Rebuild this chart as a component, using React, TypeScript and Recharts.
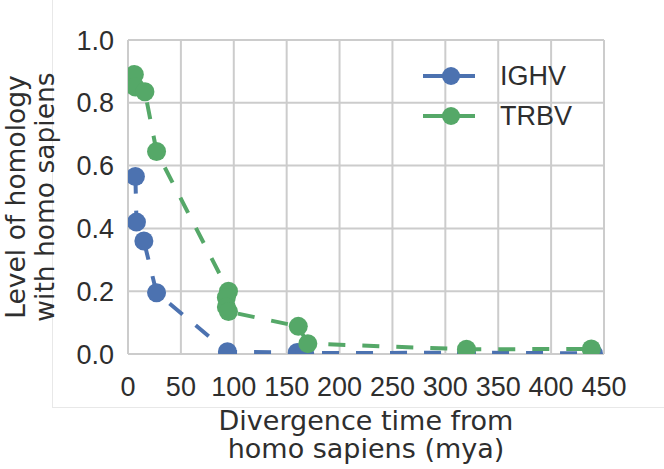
import React from 'react';
import { ComposedChart, Line, XAxis, YAxis, CartesianGrid, Legend, Label } from 'recharts';

const ighvTime = [7, 8, 15, 27, 94, 160, 167, 320, 440];
const ighvHomology = [0.565, 0.42, 0.36, 0.195, 0.007, 0.005, 0.003, 0.004, 0.002];
const trbvTime = [6, 7, 16, 27, 95, 93, 93, 95, 161, 170, 320, 438];
const trbvHomology = [0.89, 0.85, 0.835, 0.645, 0.2, 0.18, 0.15, 0.135, 0.088, 0.033, 0.015, 0.016];
const xTicks = [0, 50, 100, 150, 200, 250, 300, 350, 400, 450];
const yTicks = [0, 0.2, 0.4, 0.6, 0.8, 1.0];
const seriesNames = ['IGHV', 'TRBV'];

const BLUE = '#4C72B0';
const GREEN = '#55A868';
const GRID = '#cccccc';
const TEXT = '#2e2e2e';

const ighvData = ighvTime.map((x, i) => ({ x, y: ighvHomology[i] }));
const trbvData = trbvTime.map((x, i) => ({ x, y: trbvHomology[i] }));

const LegendContent = () => {
  const colors = [BLUE, GREEN];
  return (
    <div>
      {seriesNames.map((name, i) => (
        <div key={name} style={{ display: 'flex', alignItems: 'center', height: 40 }}>
          <svg width={80} height={40}>
            <line x1={3} x2={55} y1={20} y2={20} stroke={colors[i]} strokeWidth={4} />
            <circle cx={31} cy={20} r={9} fill={colors[i]} />
          </svg>
          <span style={{ fontFamily: '"Liberation Sans", Arial, sans-serif', fontSize: 27, color: TEXT, lineHeight: '40px' }}>
            {name}
          </span>
        </div>
      ))}
    </div>
  );
};

const XLabel = (props: any) => {
  const vb = props.viewBox || {};
  const cx = vb.x + vb.width / 2;
  const y = vb.y;
  return (
    <text x={cx} y={y + 76} textAnchor="middle" fill={TEXT} style={{ fontFamily: '"DejaVu Sans", sans-serif', fontSize: 27 }}>
      <tspan x={cx} y={y + 76}>Divergence time from</tspan>
      <tspan x={cx} y={y + 104}>homo sapiens (mya)</tspan>
    </text>
  );
};

const YLabel = (props: any) => {
  const vb = props.viewBox || {};
  const cy = vb.y + vb.height / 2;
  return (
    <g>
      <text x={25} y={cy} transform={`rotate(-90, 25, ${cy})`} textAnchor="middle" fill={TEXT} style={{ fontFamily: '"DejaVu Sans", sans-serif', fontSize: 26.5 }}>
        Level of homology
      </text>
      <text x={54} y={cy} transform={`rotate(-90, 54, ${cy})`} textAnchor="middle" fill={TEXT} style={{ fontFamily: '"DejaVu Sans", sans-serif', fontSize: 26.5 }}>
        with homo sapiens
      </text>
    </g>
  );
};

const tickStyle = { fontFamily: '"Liberation Sans", Arial, sans-serif', fontSize: 27, fill: TEXT };

export default function App() {
  return (
    <div style={{ position: 'absolute', left: 0, top: 0, width: 664, height: 469, background: '#fff' }}>
      <div style={{ position: 'absolute', left: 52, top: 0, width: 1, height: 408, background: '#e8e8e8' }} />
      <div style={{ position: 'absolute', left: 52, top: 407, width: 612, height: 1, background: '#e8e8e8' }} />
      <ComposedChart width={664} height={469} margin={{ top: 40, right: 60, bottom: 0, left: 48 }}>
        <CartesianGrid stroke={GRID} strokeWidth={2} horizontalValues={yTicks} verticalValues={xTicks} />
        <XAxis
          type="number"
          dataKey="x"
          domain={[0, 450]}
          ticks={xTicks}
          allowDataOverflow
          height={115}
          tickSize={0}
          tickMargin={23}
          axisLine={false}
          tickLine={false}
          tick={tickStyle}
          interval={0}
        >
          <Label content={<XLabel />} />
        </XAxis>
        <YAxis
          type="number"
          dataKey="y"
          domain={[0, 1]}
          ticks={yTicks}
          allowDataOverflow
          width={80}
          tickSize={0}
          tickMargin={14}
          axisLine={false}
          tickLine={false}
          tick={tickStyle}
          interval={0}
          tickFormatter={(v: number) => v.toFixed(1)}
        >
          <Label content={<YLabel />} />
        </YAxis>
        <Line
          data={ighvData}
          dataKey="y"
          name={seriesNames[0]}
          type="linear"
          stroke={BLUE}
          strokeWidth={4}
          strokeDasharray="17 17"
          dot={{ r: 9.5, fill: BLUE, stroke: 'none', strokeDasharray: '' }}
          activeDot={false}
          isAnimationActive={false}
        />
        <Line
          data={trbvData}
          dataKey="y"
          name={seriesNames[1]}
          type="linear"
          stroke={GREEN}
          strokeWidth={4}
          strokeDasharray="17 17"
          dot={{ r: 9.5, fill: GREEN, stroke: 'none', strokeDasharray: '' }}
          activeDot={false}
          isAnimationActive={false}
        />
        <Legend
          layout="horizontal"
          verticalAlign="middle"
          align="center"
          content={<LegendContent />}
          wrapperStyle={{ left: 420, top: 56, width: 180, height: 80 }}
        />
      </ComposedChart>
    </div>
  );
}
